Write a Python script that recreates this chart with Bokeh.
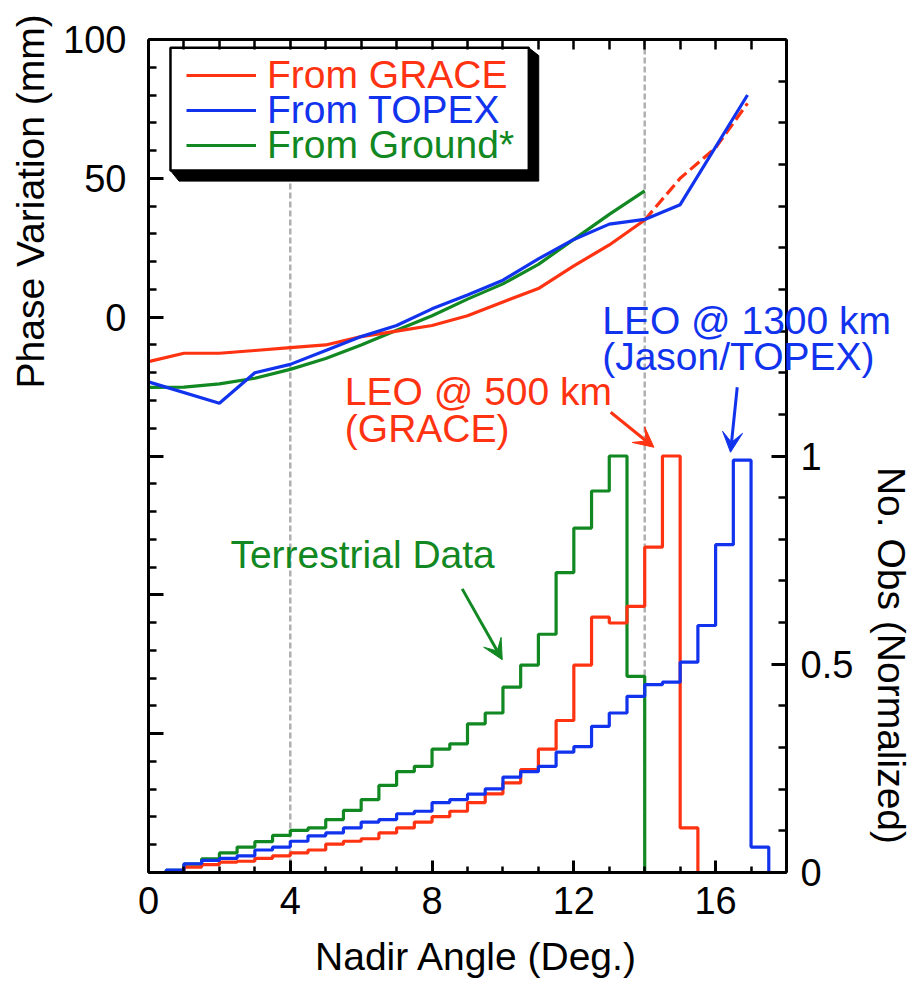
import numpy as np
from bokeh.plotting import figure
from bokeh.models import (Range1d, LinearAxis, FixedTicker, Span, Arrow,
                          VeeHead, Legend, LegendItem)
from bokeh.core.properties import value
from bokeh.embed import file_html
from bokeh.resources import INLINE

# ---------------- data ----------------
# Phase variation (mm) versus nadir angle (deg)
grace_angle = [0, 1, 2, 3, 4, 5, 6, 7, 8, 9, 10, 11, 12, 13, 14]
grace_phase = [-16, -13, -13, -12, -11, -10, -7, -5, -3, 0.5, 5.5, 10.3, 18.5, 26, 35]
grace_ext_angle = [14, 15, 16, 16.9]
grace_ext_phase = [35, 50, 61, 77]

topex_angle = [0, 2, 3, 4, 5, 6, 7, 8, 9, 10, 11, 12, 13, 14, 15, 16.9]
topex_phase = [-23.3, -31, -20, -17, -12, -7, -3, 3, 8, 13.3, 21, 28, 33.5, 35.2, 40.5, 80]

ground_angle = [0, 1, 2, 3, 4, 5, 6, 7, 8, 9, 10, 11, 12, 13, 14]
ground_phase = [-25.3, -25.2, -24, -22, -18.8, -14.9, -10, -4.7, 0.5, 6.5, 12, 19, 28, 37, 45.5]

# Normalized number of observations, 0.5 deg bins
bin_width = 0.5
ground_hist_start = 0.5
ground_hist = [0.005, 0.02, 0.033, 0.047, 0.061, 0.074, 0.089, 0.101, 0.107, 0.127,
               0.149, 0.175, 0.209, 0.242, 0.255, 0.296, 0.309, 0.357, 0.383, 0.445,
               0.498, 0.572, 0.72, 0.827, 0.916, 1.0, 0.471]
grace_hist_start = 1.0
grace_hist = [0.013, 0.019, 0.025, 0.027, 0.034, 0.040, 0.047, 0.054, 0.068, 0.075,
              0.081, 0.095, 0.107, 0.121, 0.134, 0.147, 0.168, 0.189, 0.215, 0.247,
              0.296, 0.365, 0.498, 0.613, 0.599, 0.639, 0.781, 1.0, 0.107]
topex_hist_start = 0.5
topex_hist = [0.006, 0.021, 0.029, 0.034, 0.040, 0.054, 0.061, 0.075, 0.088, 0.095,
              0.107, 0.121, 0.127, 0.141, 0.147, 0.168, 0.175, 0.188, 0.201, 0.229,
              0.242, 0.255, 0.289, 0.302, 0.351, 0.383, 0.423, 0.451, 0.457, 0.505,
              0.593, 0.787, 0.99, 0.061]

RED = "#ff3311"
BLUE = "#1133ee"
GREEN = "#118822"
FONT = "Liberation Sans"
TEXT_SIZE = "39px"


def outline(start, values):
    """Step outline of a histogram with 0.5 deg bins."""
    edges = start + bin_width * np.arange(len(values) + 1)
    xs = np.concatenate([[edges[0]], edges])
    ys = np.concatenate([[0.0], values, [0.0]])
    return xs, ys


# ---------------- figure ----------------
p = figure(width=914, height=981, x_range=Range1d(0, 18), y_range=Range1d(-200, 100),
           output_backend="svg", toolbar_location=None,
           min_border_left=148, min_border_right=128, min_border_top=39,
           min_border_bottom=109)
p.extra_y_ranges = {"obs": Range1d(0, 2)}
p.xgrid.visible = False
p.ygrid.visible = False
p.outline_line_color = None
p.background_fill_color = "white"
p.border_fill_color = "white"


def style_axis(ax, major_in, minor_in):
    ax.axis_line_width = 3
    ax.axis_line_color = "black"
    ax.major_tick_line_width = 3
    ax.minor_tick_line_width = 2.5
    ax.major_tick_in = major_in
    ax.major_tick_out = 0
    ax.minor_tick_in = minor_in
    ax.minor_tick_out = 0
    ax.major_label_text_font = FONT
    ax.major_label_text_font_size = "38px"
    ax.major_label_text_color = "black"


# left axis: phase variation (labels only on the upper part)
left = p.yaxis[0]
left.ticker = FixedTicker(ticks=[-200, -150, -100, -50, 0, 50, 100],
                          minor_ticks=list(range(-200, 101, 10)))
left.major_label_overrides = {-200: "", -150: "", -100: "", -50: ""}
style_axis(left, 15, 8)
left.major_label_standoff = 22

# bottom axis: nadir angle
bottom = p.xaxis[0]
bottom.ticker = FixedTicker(ticks=[0, 4, 8, 12, 16], minor_ticks=list(range(0, 19)))
style_axis(bottom, 12, 6)
bottom.major_label_standoff = 14

# right axis: normalized observation count
right = LinearAxis(y_range_name="obs",
                   ticker=FixedTicker(ticks=[0, 0.5, 1],
                                      minor_ticks=[round(0.1 * i, 1) for i in range(21)]))
right.major_label_overrides = {0: "0", 0.5: "0.5", 1: "1"}
style_axis(right, 15, 8)
right.major_label_standoff = 14
p.add_layout(right, "right")

# top axis: plain tick marks every degree
top = LinearAxis(ticker=FixedTicker(ticks=[], minor_ticks=list(range(0, 19))))
style_axis(top, 10, 10)
top.major_label_standoff = 0
p.add_layout(top, "above")

# axis titles: phase title along the upper part, count title along the lower part
title_kw = dict(text_align="center", text_baseline="middle", text_font=value(FONT),
                text_font_size=TEXT_SIZE, text_color="black", level="overlay")
p.text(x=[-3.34], y=[41.7], text=["Phase Variation (mm)"], angle=np.pi / 2, **title_kw)
p.text(x=[20.96], y=[0.521], y_range_name="obs", text=["No. Obs (Normalized)"],
       angle=-np.pi / 2, **title_kw)
p.text(x=[9.255], y=[-230.4], text=["Nadir Angle (Deg.)"], **title_kw)

# reference angles
for loc in (4, 14):
    p.add_layout(Span(location=loc, dimension="height", line_color="#b0b0b0",
                      line_width=2.5, line_dash="6 3", level="underlay"))

# ---------------- histograms ----------------
for start, vals, col in ((ground_hist_start, ground_hist, GREEN),
                         (grace_hist_start, grace_hist, RED),
                         (topex_hist_start, topex_hist, BLUE)):
    hx, hy = outline(start, vals)
    p.step(hx, hy, mode="after", y_range_name="obs", line_color=col, line_width=3.2)

# ---------------- phase curves ----------------
r_ground = p.line(ground_angle, ground_phase, line_color=GREEN, line_width=3.2)
r_grace = p.line(grace_angle, grace_phase, line_color=RED, line_width=3.2)
p.line(grace_ext_angle, grace_ext_phase, line_color=RED, line_width=3.2, line_dash="12 5")
r_topex = p.line(topex_angle, topex_phase, line_color=BLUE, line_width=3.2)

# ---------------- annotations ----------------
ann_text = ["LEO @ 1300 km", "(Jason/TOPEX)", "LEO @ 500 km", "(GRACE)", "Terrestrial Data"]
ann_x = [12.80, 12.80, 5.54, 5.54, 2.31]
ann_y = [1.326, 1.238, 1.154, 1.066, 0.764]
ann_color = [BLUE, BLUE, RED, RED, GREEN]
p.text(x=ann_x, y=ann_y, text=ann_text, text_color=ann_color, y_range_name="obs",
       text_font=value(FONT), text_font_size=TEXT_SIZE, text_align="left",
       text_baseline="middle", level="overlay")

arrows = [((13.04, 1.105), (14.26, 1.021), RED),
          ((16.61, 1.165), (16.42, 1.009), BLUE),
          ((8.85, 0.681), (9.98, 0.511), GREEN)]
for (x0, y0), (x1, y1), col in arrows:
    p.add_layout(Arrow(x_start=x0, y_start=y0, x_end=x1, y_end=y1, y_range_name="obs",
                       line_color=col, line_width=3,
                       end=VeeHead(size=20, fill_color=col, line_color=col)))

# ---------------- legend ----------------
shadow_x = [10.73, 11.01, 11.01, 0.86, 0.62, 10.73]
shadow_y = [97.0, 94.2, 49.0, 49.0, 52.8, 52.8]
p.patch(shadow_x, shadow_y, fill_color="black", line_color="black", line_width=1)
box_x = [0.62, 10.73, 10.73, 0.62]
box_y = [97.0, 97.0, 52.8, 52.8]
p.patch(box_x, box_y, fill_color="white", line_color="black", line_width=2.5)

for r, lab, col, vy in ((r_grace, "From GRACE", RED, 774),
                        (r_topex, "From TOPEX", BLUE, 739),
                        (r_ground, "From Ground*", GREEN, 704)):
    p.add_layout(Legend(items=[LegendItem(label=lab, renderers=[r])], location=(38, vy),
                        label_text_color=col, label_text_font=FONT,
                        label_text_font_size=TEXT_SIZE, glyph_width=70, glyph_height=46,
                        label_height=46, label_standoff=11, padding=0, margin=0,
                        spacing=0, border_line_color=None, background_fill_alpha=0))

open("out.html", "w").write(file_html(p, INLINE))
